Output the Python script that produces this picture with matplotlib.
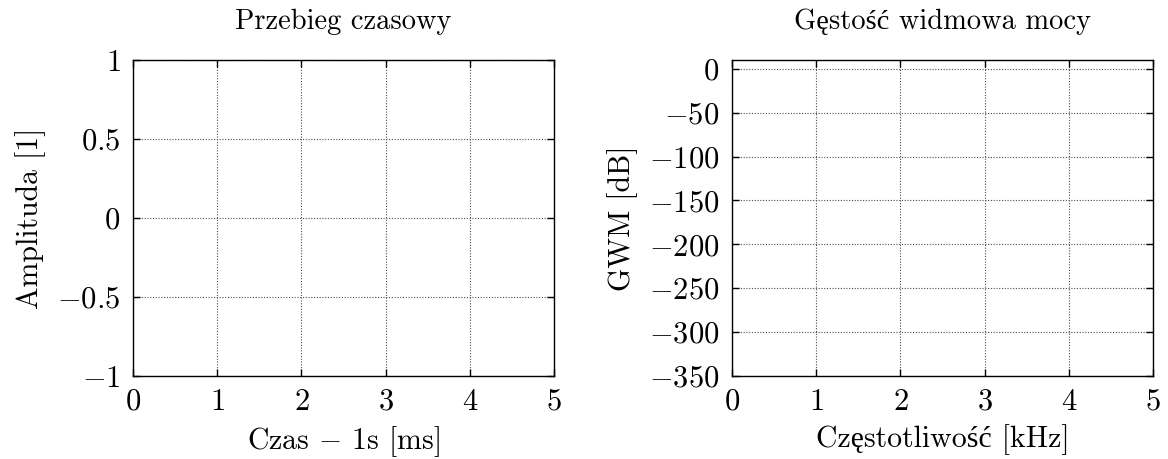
import matplotlib
matplotlib.use("Agg")
import matplotlib.pyplot as plt

plt.rcParams['font.family'] = ['cmr10', 'Liberation Serif']
plt.rcParams['mathtext.fontset'] = 'cm'
plt.rcParams['axes.formatter.use_mathtext'] = True

TICK_FS = 22
LABEL_FS = 21.5
TITLE_FS = 20.5

left_title = "Przebieg czasowy"
left_xlabel = "Czas $-$ 1s [ms]"
left_ylabel = "Amplituda [1]"
left_xticks = [0, 1, 2, 3, 4, 5]
left_yticks = [-1, -0.5, 0, 0.5, 1]
left_yticklabels = ["$-1$", "$-0.5$", "$0$", "$0.5$", "$1$"]
left_ylim = (-1, 1)

right_title = "Gęstość widmowa mocy"
right_xlabel = "Częstotliwość [kHz]"
right_ylabel = "GWM [dB]"
right_xticks = [0, 1, 2, 3, 4, 5]
right_yticks = [0, -50, -100, -150, -200, -250, -300, -350]
right_yticklabels = ["$0$", "$-50$", "$-100$", "$-150$", "$-200$", "$-250$", "$-300$", "$-350$"]
right_ylim = (-350, 10)

fig = plt.figure(figsize=(11.68, 4.59), dpi=100)
W, H = 1168, 459
ax1 = fig.add_axes([133 / W, 1 - 376 / H, (554 - 133) / W, (376 - 60) / H])
ax2 = fig.add_axes([732 / W, 1 - 376 / H, (1153 - 732) / W, (376 - 60) / H])

for ax, title, xl, yl, xt, yt, ytl, ylim in [
    (ax1, left_title, left_xlabel, left_ylabel, left_xticks, left_yticks, left_yticklabels, left_ylim),
    (ax2, right_title, right_xlabel, right_ylabel, right_xticks, right_yticks, right_yticklabels, right_ylim),
]:
    ax.set_xlim(xt[0], xt[-1])
    ax.set_ylim(*ylim)
    ax.set_xticks(xt)
    ax.set_xticklabels([f"${v}$" for v in xt])
    ax.set_yticks(yt)
    ax.set_yticklabels(ytl)
    ax.set_title(title, pad=22, fontsize=TITLE_FS)
    ax.set_xlabel(xl, labelpad=6, fontsize=LABEL_FS)
    ax.set_ylabel(yl, labelpad=8, fontsize=LABEL_FS)
    ax.grid(True, linestyle=(0, (1, 1.5)), color='0.3', linewidth=0.8)
    ax.tick_params(direction='in', top=True, right=True, length=5, width=1,
                   pad=9, labelsize=TICK_FS)
    for s in ax.spines.values():
        s.set_linewidth(1.0)

fig.savefig("out.png", dpi=100)
